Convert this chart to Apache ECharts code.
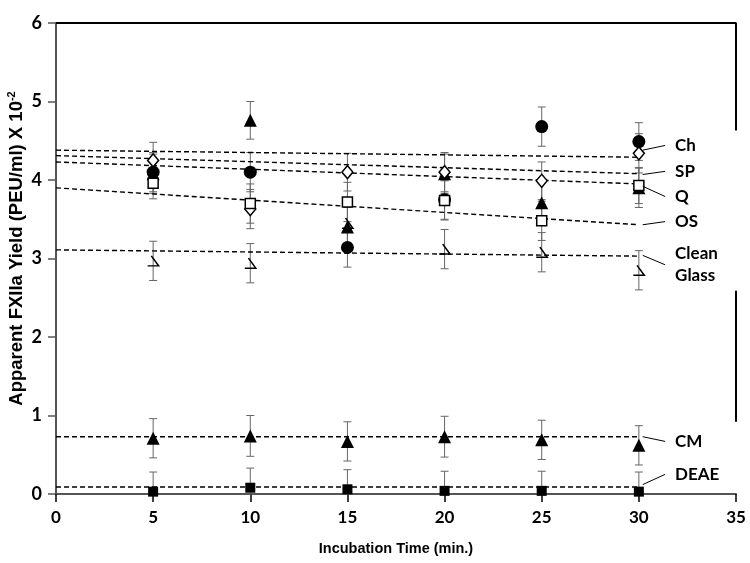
<!DOCTYPE html>
<html>
<head>
    <meta charset="utf-8">
    <title>FXIIa yield</title>
    <script src="https://cdn.jsdelivr.net/npm/echarts@6/dist/echarts.min.js"></script>
</head>
<body style="margin:0">
<div id="main" style="width: 750px;height:563px;"></div>
<script type="text/javascript">
    // incubation times (min.)
    var times = [5, 10, 15, 20, 25, 30];

    var circles   = [4.10, 4.10, 3.14, 3.75, 4.68, 4.49];
    var circleErr = [0.25, 0.25, 0.25, 0.25, 0.25, 0.24];
    var triUp     = [4.08, 4.76, 3.40, 4.08, 3.71, 3.90];
    var triUpErr  = [0.25, 0.24, 0.25, 0.25, 0.25, 0.25];
    var diamonds  = [4.25, 3.63, 4.10, 4.10, 3.99, 4.34];
    var diamErr   = [0.23, 0.25, 0.24, 0.25, 0.24, 0.25];
    var squares   = [3.96, 3.70, 3.72, 3.74, 3.48, 3.93];
    var squareErr = [0.20, 0.25, 0.25, 0.25, 0.25, 0.23];
    var glass     = [2.97, 2.94, 3.45, 3.12, 3.08, 2.85];
    var glassErr  = [0.25, 0.25, 0.25, 0.25, 0.25, 0.25];
    var cm        = [0.71, 0.74, 0.67, 0.73, 0.69, 0.62];
    var cmErr     = [0.25, 0.26, 0.25, 0.26, 0.25, 0.25];
    var deae      = [0.03, 0.08, 0.06, 0.04, 0.04, 0.03];
    var deaeErr   = [0.25, 0.25, 0.25, 0.25, 0.25, 0.25];

    // fitted lines: value at t=0 and t=30
    var fitNames = ['Ch', 'SP', 'Q', 'OS', 'Clean\nGlass', 'CM', 'DEAE'];
    var fitStart = [4.38, 4.31, 4.23, 3.90, 3.11, 0.73, 0.09];
    var fitEnd   = [4.29, 4.08, 3.95, 3.43, 3.03, 0.73, 0.09];
    // leader line: start value near t=30 and value where the label sits
    var leadFrom = [4.38, 4.07, 3.92, 3.43, 3.04, 0.73, 0.12];
    var leadTo   = [4.44, 4.11, 3.79, 3.47, 2.92, 0.67, 0.25];

    var yTicks = [0, 1, 2, 3, 4, 5, 6];
    var xTicks = [0, 5, 10, 15, 20, 25, 30, 35];

    var myChart = echarts.init(document.getElementById('main'));

    function pts(vals, errs) {
        return times.map(function (t, i) { return [t, vals[i], errs[i]]; });
    }

    function errBars(vals, errs) {
        return {
            type: 'custom',
            silent: true,
            z: 2,
            data: pts(vals, errs),
            renderItem: function (params, api) {
                var x = api.value(0), y = api.value(1), e = api.value(2);
                var top = api.coord([x, y + e]);
                var bot = api.coord([x, Math.max(0, y - e)]);
                var st = { stroke: '#666', lineWidth: 1 };
                return {
                    type: 'group',
                    children: [
                        { type: 'line', shape: { x1: top[0], y1: top[1], x2: bot[0], y2: bot[1] }, style: st },
                        { type: 'line', shape: { x1: top[0] - 4, y1: top[1], x2: top[0] + 4, y2: top[1] }, style: st },
                        { type: 'line', shape: { x1: bot[0] - 4, y1: bot[1], x2: bot[0] + 4, y2: bot[1] }, style: st }
                    ]
                };
            }
        };
    }

    function marks(vals, symbol, size, filled) {
        return {
            type: 'scatter',
            z: 4,
            silent: true,
            symbol: symbol,
            symbolSize: size,
            symbolKeepAspect: true,
            data: times.map(function (t, i) { return [t, vals[i]]; }),
            itemStyle: filled
                ? { color: '#000', opacity: 1 }
                : { color: '#fff', borderColor: '#000', borderWidth: 1.5, opacity: 1 }
        };
    }

    var series = [];

    fitNames.forEach(function (n, i) {
        series.push({
            type: 'line',
            z: 3,
            symbol: 'none',
            silent: true,
            data: [[0, fitStart[i]], [30, fitEnd[i]]],
            lineStyle: { color: '#000', width: 1.4, type: [5, 3] }
        });
    });

    [[circles, circleErr], [triUp, triUpErr], [diamonds, diamErr], [squares, squareErr],
     [glass, glassErr], [cm, cmErr], [deae, deaeErr]].forEach(function (p) {
        series.push(errBars(p[0], p[1]));
    });

    series.push(marks(circles, 'circle', 13, true));
    series.push(marks(triUp, 'triangle', 13, true));
    series.push(marks(diamonds, 'diamond', [11, 13], false));
    series.push(marks(squares, 'rect', 10, false));
    series.push({
        type: 'scatter',
        z: 4,
        silent: true,
        symbol: 'path://M3,0 L9,8 L0,8',
        symbolSize: [11, 10],
        data: times.map(function (t, i) { return [t, glass[i]]; }),
        itemStyle: { color: 'transparent', borderColor: '#000', borderWidth: 1.5, opacity: 1 }
    });
    series.push(marks(cm, 'triangle', 13, true));
    series.push(marks(deae, 'rect', 10, true));

    // labels with leader lines
    series.push({
        type: 'custom',
        silent: true,
        z: 5,
        data: fitNames.map(function (n, i) { return [leadFrom[i], leadTo[i], i]; }),
        renderItem: function (params, api) {
            var i = api.value(2);
            var a = api.coord([30.2, api.value(0)]);
            var b = api.coord([31.35, api.value(1)]);
            var txt = fitNames[i];
            return {
                type: 'group',
                children: [
                    { type: 'line', shape: { x1: a[0], y1: a[1], x2: b[0], y2: b[1] }, style: { stroke: '#000', lineWidth: 1 } },
                    {
                        type: 'text',
                        x: b[0] + 10, y: b[1],
                        style: {
                            text: txt, fill: '#000',
                            font: 'bold 17px Lato',
                            lineHeight: 22,
                            verticalAlign: 'middle', align: 'left'
                        }
                    }
                ]
            };
        }
    });

    // frame: top edge and broken right edge
    series.push({
        type: 'line',
        symbol: 'none',
        silent: true,
        z: 1,
        data: [[0, 6], [35, 6], [35, 4.63], '-', [35, 2.59], [35, 0.92]],
        lineStyle: { color: '#000', width: 2 }
    });

    myChart.setOption({
        animation: false,
        backgroundColor: '#fff',
        grid: { left: 56, right: 14, top: 23, bottom: 69, outerBoundsMode: 'none' },
        xAxis: {
            type: 'value',
            min: xTicks[0], max: xTicks[xTicks.length - 1], interval: 5,
            name: 'Incubation Time (min.)',
            nameLocation: 'middle',
            nameGap: 47,
            nameMoveOverlap: false,
            nameTextStyle: { fontFamily: 'Liberation Sans', fontWeight: 'bold', fontSize: 14.5, color: '#000' },
            axisLine: { lineStyle: { color: '#555', width: 2 } },
            axisTick: { length: 8, lineStyle: { color: '#000', width: 1.5 } },
            axisLabel: { fontFamily: 'Lato', fontWeight: 'bold', fontSize: 17, color: '#000', margin: 15 },
            splitLine: { show: false }
        },
        yAxis: {
            type: 'value',
            min: yTicks[0], max: yTicks[yTicks.length - 1], interval: 1,
            name: '{a|Apparent FXIIa Yield (PEU/ml) X 10}{s|-2}',
            nameLocation: 'middle',
            nameRotate: 90,
            nameGap: 28,
            nameMoveOverlap: false,
            nameTextStyle: {
                padding: [0, 0, 0, 20],
                rich: {
                    a: { fontFamily: 'Liberation Sans', fontWeight: 'bold', fontSize: 18.5, color: '#000' },
                    s: { fontFamily: 'Liberation Sans', fontWeight: 'bold', fontSize: 11, color: '#000', padding: [0, 0, 11, 0] }
                }
            },
            axisLine: { show: true, lineStyle: { color: '#555', width: 2 } },
            axisTick: { show: true, length: 8, lineStyle: { color: '#555', width: 1.5 } },
            axisLabel: { fontFamily: 'Lato', fontWeight: 'bold', fontSize: 18, color: '#000', margin: 14 },
            splitLine: { show: false }
        },
        series: series
    });
</script>
</body>
</html>
